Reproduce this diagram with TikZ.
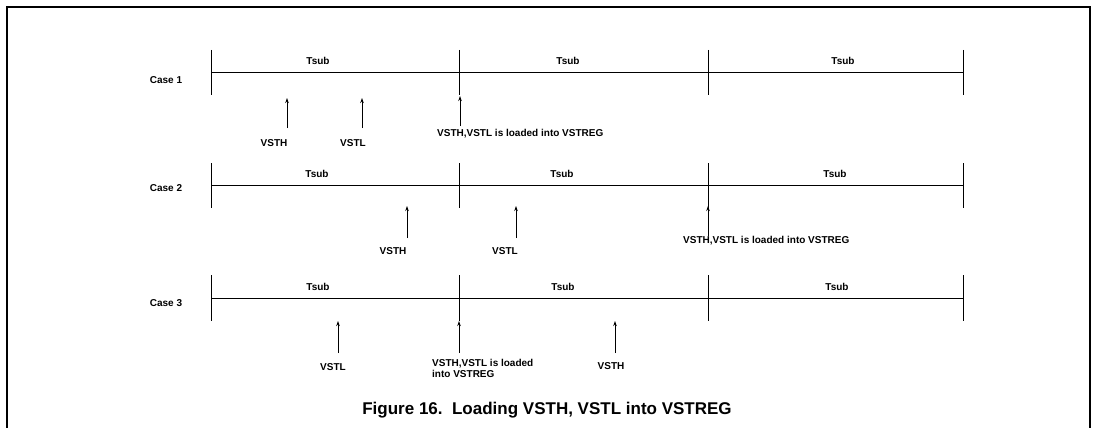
\documentclass[tikz,border=0pt]{standalone}
\usepackage{fontspec}
\setmainfont{Liberation Sans}
\usetikzlibrary{arrows.meta}
\begin{document}
\begin{tikzpicture}[x=1pt,y=-1pt,
  lbl/.style={font=\bfseries\fontsize{10}{11}\selectfont, inner sep=0pt},
  captxt/.style={font=\bfseries\fontsize{17}{19}\selectfont, inner sep=0pt},
  tl/.style={line width=0.9pt},
  tk/.style={line width=0.9pt},
  arr/.style={line width=0.9pt, -{Stealth[length=5pt,width=3.5pt]}},
  frm/.style={line width=1.8pt}]
\useasboundingbox (0,0) rectangle (1095,428);
% frame
\coordinate (fbl) at (7,428);
\coordinate (ftl) at (7,7);
\coordinate (ftr) at (1090,7);
\coordinate (fbr) at (1090,428);
\draw[frm] (fbl) -- (ftl) -- (ftr) -- (fbr);

% ---------- Case 1 ----------
\node[lbl] (c1) at (166,80) {Case 1};
\foreach \n/\x in {a/211,b/459,c/708,d/963}{
  \coordinate (c1\n t) at (\x,50);
  \coordinate (c1\n m) at (\x,72);
  \coordinate (c1\n b) at (\x,95);
  \draw[tk] (c1\n t) -- (c1\n b);
}
\draw[tl] (c1am) -- (c1dm);
\node[lbl] (c1s1) at (318,61) {Tsub};
\node[lbl] (c1s2) at (568,61) {Tsub};
\node[lbl] (c1s3) at (843,61) {Tsub};
\coordinate (c1p1) at (287,98);
\coordinate (c1q1) at (287,128);
\draw[arr] (c1q1) -- (c1p1);
\node[lbl] (c1l1) at (274,143) {VSTH};
\coordinate (c1p2) at (362,98);
\coordinate (c1q2) at (362,128);
\draw[arr] (c1q2) -- (c1p2);
\node[lbl] (c1l2) at (353,143) {VSTL};
\coordinate (c1p3) at (460,96);
\coordinate (c1q3) at (460,126);
\draw[arr] (c1q3) -- (c1p3);
\node[lbl, anchor=west] (c1l3) at (437,134) {VSTH,VSTL is loaded into VSTREG};

% ---------- Case 2 ----------
\node[lbl] (c2) at (166,188) {Case 2};
\foreach \n/\x in {a/211,b/459,c/708,d/963}{
  \coordinate (c2\n t) at (\x,163);
  \coordinate (c2\n m) at (\x,185);
  \coordinate (c2\n b) at (\x,208);
  \draw[tk] (c2\n t) -- (c2\n b);
}
\draw[tl] (c2am) -- (c2dm);
\node[lbl] (c2s1) at (317,174) {Tsub};
\node[lbl] (c2s2) at (562,174) {Tsub};
\node[lbl] (c2s3) at (835,174) {Tsub};
\coordinate (c2p1) at (407,206);
\coordinate (c2q1) at (407,238);
\draw[arr] (c2q1) -- (c2p1);
\node[lbl] (c2l1) at (393,251) {VSTH};
\coordinate (c2p2) at (516,206);
\coordinate (c2q2) at (516,238);
\draw[arr] (c2q2) -- (c2p2);
\node[lbl] (c2l2) at (505,251) {VSTL};
\coordinate (c2p3) at (708,206);
\coordinate (c2q3) at (708,236);
\draw[arr] (c2q3) -- (c2p3);
\node[lbl, anchor=west] (c2l3) at (683,241) {VSTH,VSTL is loaded into VSTREG};

% ---------- Case 3 ----------
\node[lbl] (c3) at (166,303) {Case 3};
\foreach \n/\x in {a/211,b/459,c/708,d/963}{
  \coordinate (c3\n t) at (\x,275);
  \coordinate (c3\n m) at (\x,298);
  \coordinate (c3\n b) at (\x,321);
  \draw[tk] (c3\n t) -- (c3\n b);
}
\draw[tl] (c3am) -- (c3dm);
\node[lbl] (c3s1) at (318,287) {Tsub};
\node[lbl] (c3s2) at (563,287) {Tsub};
\node[lbl] (c3s3) at (837,287) {Tsub};
\coordinate (c3p1) at (338,321);
\coordinate (c3q1) at (338,353);
\draw[arr] (c3q1) -- (c3p1);
\node[lbl] (c3l1) at (333,367) {VSTL};
\coordinate (c3p2) at (459,321);
\coordinate (c3q2) at (459,353);
\draw[arr] (c3q2) -- (c3p2);
\node[lbl, anchor=west, align=left] (c3l3) at (432,368) {VSTH,VSTL is loaded\\into VSTREG};
\coordinate (c3p3) at (615,321);
\coordinate (c3q3) at (615,353);
\draw[arr] (c3q3) -- (c3p3);
\node[lbl] (c3l2) at (611,366) {VSTH};

% caption
\node[captxt] (title) at (547,410) {Figure 16.\ \ Loading VSTH, VSTL into VSTREG};
\end{tikzpicture}
\end{document}
